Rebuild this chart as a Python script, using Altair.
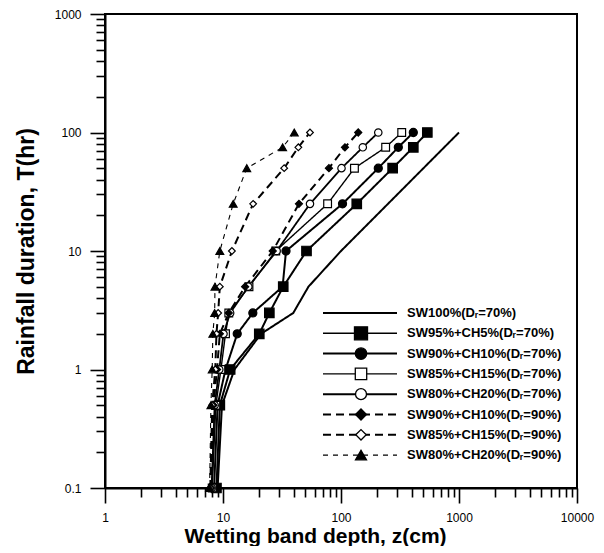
import altair as alt
import pandas as pd

# ---------------- data ----------------
T_HR = [0.1, 0.5, 1, 2, 3, 5, 10, 25, 50, 75, 100]

SW100_70 = [9.0, 9.8, 12.5, 21.0, 39.4, 53.0, 100, 250, 500, 750, 1000]
SW95_CH5_70 = [8.8, 9.4, 11.5, 20.3, 24.7, 32.4, 51, 136, 274, 410, 539]
SW90_CH10_70 = [8.4, 9.0, 10.5, 13.2, 17.9, 32.0, 34.2, 103, 207, 306, 410]
SW85_CH15_70 = [8.1, 8.7, 9.6, 10.5, 11.2, 16.6, 28.0, 77, 130, 239, 327]
SW80_CH20_70 = [8.0, 8.5, 9.3, 10.1, 11.5, 16.4, 28.5, 54.6, 101, 153, 207]
SW90_CH10_90 = [7.9, 8.3, 8.9, 9.4, 11.2, 15.4, 26.4, 44, 79, 108, 140]
SW85_CH15_90 = [7.8, 8.1, 8.6, 8.8, 9.1, 9.4, 11.9, 18, 33, 43.5, 54.6]
SW80_CH20_90 = [7.7, 7.9, 8.1, 8.2, 8.5, 8.55, 9.4, 12.2, 15.9, 32, 40.2]

LABELS = [
    "SW100%(D\u1d63=70%)",
    "SW95%+CH5%(D\u1d63=70%)",
    "SW90%+CH10%(D\u1d63=70%)",
    "SW85%+CH15%(D\u1d63=70%)",
    "SW80%+CH20%(D\u1d63=70%)",
    "SW90%+CH10%(D\u1d63=90%)",
    "SW85%+CH15%(D\u1d63=90%)",
    "SW80%+CH20%(D\u1d63=90%)",
]
SERIES_Z = [SW100_70, SW95_CH5_70, SW90_CH10_70, SW85_CH15_70,
            SW80_CH20_70, SW90_CH10_90, SW85_CH15_90, SW80_CH20_90]

X_MAJOR = [1, 10, 100, 1000, 10000]
Y_MAJOR = [0.1, 1, 10, 100, 1000]

# ---------------- styles ----------------
STYLES = [
    dict(shape=None, fill=None, dash=[1, 0], lw=2.0, size=0, lsize=0, llw=2.0),
    dict(shape="square", fill="black", dash=[1, 0], lw=2.0, size=90, lsize=170, llw=1.4),
    dict(shape="circle", fill="black", dash=[1, 0], lw=2.0, size=65, lsize=130, llw=2.0),
    dict(shape="square", fill="white", dash=[1, 0], lw=1.4, size=60, lsize=130, llw=1.4),
    dict(shape="circle", fill="white", dash=[1, 0], lw=1.8, size=55, lsize=120, llw=2.0),
    dict(shape="diamond", fill="black", dash=[8, 5], lw=2.0, size=50, lsize=120, llw=2.0),
    dict(shape="diamond", fill="white", dash=[8, 5], lw=2.0, size=45, lsize=110, llw=2.0),
    dict(shape="triangle-up", fill="black", dash=[5, 5], lw=1.1, size=60, lsize=120, llw=1.1),
]


def minor_ticks(lo_exp, hi_exp):
    vals = []
    for e in range(lo_exp, hi_exp):
        for k in range(1, 10):
            vals.append(round(k * 10 ** e, 6))
    vals.append(round(10 ** hi_exp, 6))
    return vals


x_vals = minor_ticks(0, 4)
y_vals = minor_ticks(-1, 3)

x_major_js = "[" + ",".join(str(v) for v in X_MAJOR) + "]"
y_major_js = "[" + ",".join(str(v) for v in Y_MAJOR) + "]"

x_axis = alt.Axis(
    values=x_vals,
    labelExpr=f"indexof({x_major_js}, datum.value) >= 0 ? format(datum.value, 'd') : ''",
    tickSize={"condition": {"test": f"indexof({x_major_js}, datum.value) >= 0", "value": 15}, "value": 9},
    labelPadding=9, labelFlush=False, labelOverlap=False,
    titlePadding=2, titleFontSize=21, titleX=210,
)
y_axis = alt.Axis(
    values=y_vals,
    labelExpr=f"indexof({y_major_js}, datum.value) >= 0 ? (datum.value < 1 ? '0.1' : format(datum.value, 'd')) : ''",
    tickSize={"condition": {"test": f"indexof({y_major_js}, datum.value) >= 0", "value": 15}, "value": 9},
    labelPadding=9, labelOverlap=False,
    titlePadding=16, titleFontSize=23,
)

xenc = alt.X("z:Q", scale=alt.Scale(type="log", domain=[1, 10000]), axis=x_axis,
             title="Wetting band depth, z(cm)")
yenc = alt.Y("T:Q", scale=alt.Scale(type="log", domain=[0.1, 1000]), axis=y_axis,
             title="Rainfall duration, T(hr)")

layers = []
for label, zs, st in zip(LABELS, SERIES_Z, STYLES):
    df = pd.DataFrame({"T": T_HR, "z": zs, "series": label})
    layers.append(
        alt.Chart(df).mark_line(color="black", strokeWidth=st["lw"], strokeDash=st["dash"])
        .encode(x=xenc, y=yenc, order="T:Q")
    )
for label, zs, st in zip(LABELS, SERIES_Z, STYLES):
    if st["shape"] is None:
        continue
    df = pd.DataFrame({"T": T_HR, "z": zs, "series": label})
    layers.append(
        alt.Chart(df).mark_point(shape=st["shape"], filled=True, fill=st["fill"], stroke="black",
                                 strokeWidth=1.2, size=st["size"], opacity=1)
        .encode(x=xenc, y=yenc)
    )

# ---------------- custom legend (inside plot, lower right) ----------------
LEG_X0, LEG_X1, LEG_XM, LEG_XT = 218, 292, 256, 302
LEG_Y0, LEG_DY = 299, 20.3
for i, (label, st) in enumerate(zip(LABELS, STYLES)):
    yy = LEG_Y0 + i * LEG_DY
    row = pd.DataFrame({"label": [label]})
    layers.append(
        alt.Chart(row).mark_rule(color="black", strokeWidth=st["llw"], strokeDash=st["dash"])
        .encode(x=alt.value(LEG_X0), x2=alt.value(LEG_X1), y=alt.value(yy))
    )
    if st["shape"] is not None:
        layers.append(
            alt.Chart(row).mark_point(shape=st["shape"], filled=True, fill=st["fill"], stroke="black",
                                      strokeWidth=1.3, size=st["lsize"], opacity=1)
            .encode(x=alt.value(LEG_XM), y=alt.value(yy))
        )
    layers.append(
        alt.Chart(row).mark_text(align="left", baseline="middle", font="Liberation Sans",
                                 fontWeight="bold", fontSize=13, color="black")
        .encode(x=alt.value(LEG_XT), y=alt.value(yy), text="label:N")
    )

chart = (
    alt.layer(*layers)
    .properties(width=472, height=474,
                autosize=alt.AutoSizeParams(type="none"),
                padding={"left": 97, "top": 6, "right": 19, "bottom": 58})
    .configure_view(stroke="black", strokeWidth=2)
    .configure_axis(domainColor="black", domainWidth=2, tickColor="black", tickWidth=1.6,
                    labelFont="Liberation Sans", labelFontSize=12, labelColor="black",
                    titleFont="Liberation Sans", titleFontWeight="bold", titleColor="black",
                    grid=False)
)

chart.save("out.html", embed_options={"renderer": "svg", "actions": False})
